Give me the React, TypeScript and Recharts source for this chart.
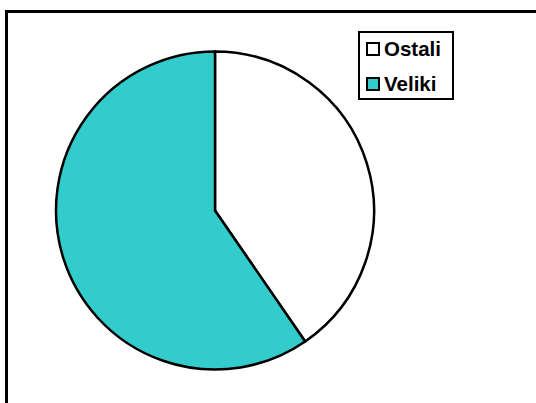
import React from "react";
import { PieChart, Pie, Cell, Legend } from "recharts";

const categories = ["Ostali", "Veliki"];
const values = [40.4, 59.6];
const colors = ["#FFFFFF", "#33CCCC"];

const data = categories.map((name, i) => ({ name, value: values[i] }));

const LegendBox = (props: any) => {
  const payload = props.payload || [];
  return (
    <div
      style={{
        position: "relative",
        border: "2px solid #000",
        background: "#fff",
        width: 96,
        height: 69,
        boxSizing: "border-box",
        fontFamily: "'Liberation Sans', Arial, sans-serif",
        fontWeight: "bold",
        fontSize: 20.5,
      }}
    >
      {payload.map((p: any, i: number) => (
        <div
          key={i}
          style={{
            position: "absolute",
            left: 6,
            top: 16 + i * 35 - 12,
            height: 24,
            display: "flex",
            alignItems: "center",
          }}
        >
          <span
            style={{
              display: "inline-block",
              width: 14,
              height: 14,
              border: "2px solid #000",
              background: colors[categories.indexOf(p.value)],
              marginRight: 4,
              boxSizing: "border-box",
            }}
          />
          <span style={{ color: "#000", lineHeight: "24px" }}>{p.value}</span>
        </div>
      ))}
    </div>
  );
};

export default function App() {
  return (
    <div style={{ position: "absolute", left: 0, top: 0, width: 536, height: 403, overflow: "hidden", background: "#fff" }}>
      <div
        style={{
          position: "absolute",
          left: 5,
          top: 10,
          width: 600,
          height: 500,
          border: "3px solid #000",
        }}
      />
      <div style={{ position: "absolute", left: 0, top: 0 }}>
        <PieChart width={536} height={403} margin={{ top: 0, right: 0, bottom: 0, left: 0 }}>
          <Pie
            data={data}
            dataKey="value"
            nameKey="name"
            cx={215}
            cy={210.5}
            outerRadius={159}
            startAngle={90}
            endAngle={-270}
            stroke="#000"
            strokeWidth={2.5}
            isAnimationActive={false}
            legendType="square"
          >
            {data.map((d, i) => (
              <Cell key={d.name} fill={colors[i]} />
            ))}
          </Pie>
          <Legend
            content={<LegendBox />}
            wrapperStyle={{ position: "absolute", left: 358, top: 31, width: 96, height: 69 }}
          />
        </PieChart>
      </div>
    </div>
  );
}
